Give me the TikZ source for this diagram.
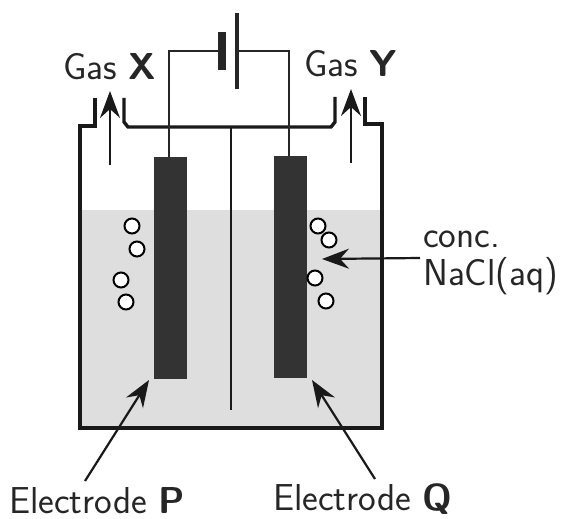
\documentclass[tikz,border=0pt]{standalone}
\usepackage{fontspec}
\usetikzlibrary{arrows.meta}
\definecolor{liquid}{gray}{0.87}
\definecolor{elec}{gray}{0.2}
\tikzset{
  wall/.style={line width=3.4pt,black!90,line join=miter},
  wire/.style={line width=2pt,black!85},
  plate/.style={draw=none,fill=black!85,minimum width=#1,inner sep=0pt},
  electrode/.style={draw=none,fill=elec,minimum width=33pt,minimum height=222pt,inner sep=0pt,anchor=north west},
  pointer/.style={line width=2.2pt,black!90,-{Stealth[length=27pt,width=20pt,inset=9pt]}},
  bubble/.style={circle,draw=black,line width=2pt,fill=white,minimum size=15pt,inner sep=0pt},
  lbl/.style={font=\sffamily\fontsize{37.5}{40}\selectfont,inner sep=0pt,text=black!85,anchor=base west,align=left}
}
\begin{document}
\begin{tikzpicture}[x=1pt,y=-1pt]
\useasboundingbox (0,0) rectangle (563,519);
\fill[liquid] (81,210) rectangle (381,428);
% tank and lid
\draw[wall] (95,98) -- (95,126) -- (80,126) -- (80,428) -- (382,428) -- (382,124) -- (365,124) -- (365,97);
\draw[wall] (124,98) -- (124,122) -- (128,127) -- (331,127) -- (335,122) -- (335,97);
\draw[line width=2.6pt,black!90] (231,127) -- (231,410);
% electrodes
\node[electrode] (P) at (154,157) {};
\node[electrode] (Q) at (274,156) {};
% battery
\node[plate=8pt,minimum height=38pt] (neg) at (222,51) {};
\node[plate=3.5pt,minimum height=76pt] (pos) at (237,51) {};
\coordinate (lc) at (168.5,51);
\coordinate (rc) at (289,51);
\draw[wire] (neg.west) -- (lc) -- (P.north -| lc);
\draw[wire] (pos.east) -- (rc) -- (Q.north -| rc);
% bubbles
\foreach \n/\x/\y in {a/132/226,b/137/249,c/121/280,d/126/302,e/318/226,f/329/240,g/315/278,h/326/301}
  \node[bubble] (\n) at (\x,\y) {};
% labels
\node[lbl] (gx) at (63,80) {Gas \textbf{X}};
\node[lbl] (gy) at (304,77) {Gas \textbf{Y}};
\node[lbl] (conc) at (423,247) {conc.};
\node[lbl] (nacl) at (423,285) {NaCl(aq)};
\node[lbl] (ep) at (9,513) {Electrode \textbf{P}};
\node[lbl] (eq) at (273,510) {Electrode \textbf{Q}};
% arrows
\coordinate (xs) at (110,165); \coordinate (xe) at (110,91);
\coordinate (ys) at (351,163); \coordinate (ye) at (351,89);
\coordinate (ns) at (420,258); \coordinate (ne) at (322,259);
\coordinate (ps) at (85,481); \coordinate (pe) at (149,380);
\coordinate (qs) at (375,479); \coordinate (qe) at (312,380);
\draw[pointer] (xs) -- (xe);
\draw[pointer] (ys) -- (ye);
\draw[pointer] (ns) -- (ne);
\draw[pointer] (ps) -- (pe);
\draw[pointer] (qs) -- (qe);
\end{tikzpicture}
\end{document}
